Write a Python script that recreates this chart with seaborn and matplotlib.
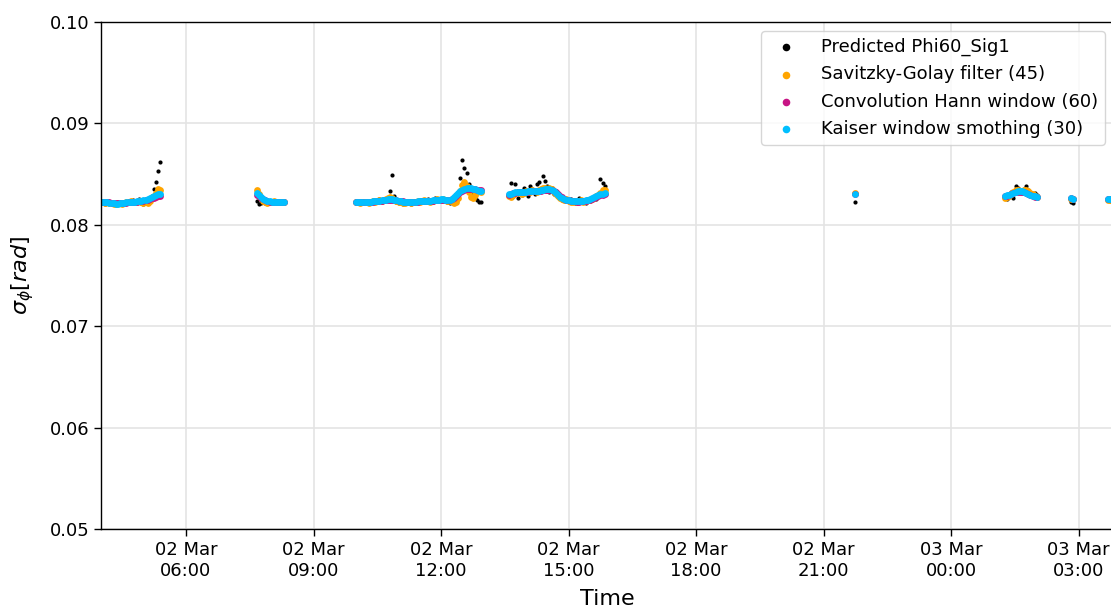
import pandas as pd
import matplotlib
matplotlib.use("Agg")
import matplotlib.pyplot as plt
import matplotlib.dates as mdates
from matplotlib.ticker import FormatStrFormatter
import seaborn as sns

# Sampling interval of all series
STEP = "3min"

# Start time of each contiguous block of samples
seg_starts = ["2023-03-02 04:00", "2023-03-02 07:40", "2023-03-02 10:00",
              "2023-03-02 13:36", "2023-03-02 21:44", "2023-03-03 01:16",
              "2023-03-03 02:49", "2023-03-03 03:42"]

# ---- block 1 (04:00) ----
raw1 = [.0822, .0821, .0820, .0822, .0821, .0822, .0820, .0819, .0821, .0820,
        .0821, .0822, .0821, .0823, .0822, .0824, .0821, .0822, .0825, .0821,
        .0820, .0824, .0821, .0826, .0828, .0835, .0842, .0853, .0862]
savgol1 = [.0822, .0822, .0821, .0822, .0821, .0821, .0820, .0820, .0821, .0821,
           .0820, .0821, .0822, .0822, .0823, .0822, .0822, .0822, .0823, .0822,
           .0821, .0822, .0821, .0823, .0826, .0828, .0831, .0835, .0834]
hann1 = [.0822, .0822, .0822, .0822, .0822, .0821, .0821, .0821, .0821, .0821,
         .0821, .0821, .0821, .0822, .0822, .0822, .0822, .0822, .0823, .0823,
         .0823, .0824, .0824, .0825, .0826, .0826, .0827, .0828, .0828]
kaiser1 = [.0822, .0822, .0822, .0822, .0821, .0821, .0821, .0820, .0820, .0821,
           .0821, .0821, .0822, .0822, .0822, .0822, .0822, .0823, .0823, .0823,
           .0824, .0824, .0825, .0826, .0827, .0828, .0829, .0830, .0830]

# ---- block 2 (07:40) ----
raw2 = [.0823, .0820, .0821, .0822, .0821, .0822, .0823, .0822, .0823, .0822,
        .0821, .0822, .0823, .0822]
savgol2 = [.0834, .0830, .0826, .0823, .0822, .0821, .0822, .0822, .0823, .0822,
           .0822, .0822, .0822, .0822]
hann2 = [.0829, .0828, .0826, .0825, .0824, .0823, .0822, .0822, .0822, .0822,
         .0822, .0822, .0822, .0822]
kaiser2 = [.0831, .0829, .0827, .0825, .0824, .0823, .0823, .0822, .0822, .0822,
           .0822, .0822, .0822, .0822]

# ---- block 3 (10:00) ----
raw3 = [.0822, .0821, .0822, .0823, .0821, .0822, .0821, .0822, .0824, .0822,
        .0823, .0825, .0822, .0824, .0823, .0826, .0833, .0849, .0828, .0822,
        .0821, .0822, .0820, .0821, .0822, .0821, .0820, .0822, .0821, .0823,
        .0822, .0824, .0823, .0822, .0825, .0823, .0822, .0826, .0824, .0823,
        .0825, .0823, .0824, .0822, .0821, .0823, .0821, .0822, .0825, .0846,
        .0864, .0856, .0851, .0840, .0832, .0829, .0826, .0824, .0822, .0822]
savgol3 = [.0822, .0822, .0821, .0822, .0822, .0822, .0821, .0822, .0823, .0822,
           .0823, .0824, .0823, .0824, .0825, .0826, .0827, .0826, .0824, .0823,
           .0822, .0822, .0821, .0821, .0822, .0822, .0821, .0822, .0822, .0823,
           .0822, .0823, .0824, .0823, .0823, .0822, .0823, .0824, .0825, .0824,
           .0824, .0825, .0824, .0823, .0823, .0823, .0821, .0822, .0826, .0833,
           .0839, .0842, .0838, .0832, .0827, .0826, .0829, .0832, .0833, .0832]
hann3 = [.0822, .0822, .0822, .0822, .0822, .0822, .0822, .0822, .0822, .0823,
         .0823, .0823, .0823, .0824, .0824, .0824, .0824, .0824, .0824, .0824,
         .0823, .0823, .0823, .0822, .0822, .0822, .0822, .0822, .0822, .0822,
         .0823, .0823, .0823, .0823, .0823, .0823, .0823, .0824, .0824, .0824,
         .0824, .0824, .0824, .0824, .0824, .0825, .0826, .0828, .0830, .0832,
         .0833, .0834, .0835, .0835, .0835, .0835, .0835, .0834, .0834, .0834]
kaiser3 = [.0822, .0822, .0822, .0822, .0822, .0822, .0822, .0822, .0823, .0823,
           .0823, .0823, .0824, .0824, .0824, .0825, .0825, .0825, .0824, .0824,
           .0823, .0823, .0822, .0822, .0822, .0822, .0822, .0822, .0822, .0823,
           .0823, .0823, .0823, .0823, .0823, .0823, .0824, .0824, .0824, .0824,
           .0825, .0825, .0824, .0824, .0824, .0825, .0827, .0829, .0831, .0833,
           .0834, .0835, .0836, .0836, .0836, .0835, .0835, .0834, .0833, .0833]

# ---- block 4 (13:36) ----
raw4 = [.0830, .0841, .0828, .0840, .0826, .0833, .0829, .0836, .0831, .0828,
        .0838, .0835, .0830, .0840, .0842, .0834, .0848, .0843, .0838, .0832,
        .0836, .0830, .0833, .0827, .0829, .0824, .0826, .0823, .0822, .0825,
        .0824, .0821, .0823, .0826, .0822, .0824, .0821, .0825, .0823, .0824,
        .0827, .0825, .0829, .0845, .0841, .0838]
savgol4 = [.0828, .0827, .0829, .0831, .0832, .0831, .0830, .0831, .0833, .0832,
           .0832, .0834, .0833, .0832, .0834, .0835, .0836, .0836, .0834, .0836,
           .0835, .0832, .0830, .0828, .0826, .0825, .0824, .0825, .0823, .0822,
           .0822, .0823, .0822, .0823, .0824, .0822, .0823, .0824, .0824, .0825,
           .0826, .0828, .0829, .0831, .0834, .0834]
hann4 = [.0829, .0830, .0831, .0831, .0832, .0832, .0832, .0832, .0832, .0832,
         .0833, .0833, .0833, .0833, .0833, .0833, .0834, .0834, .0834, .0834,
         .0834, .0833, .0832, .0830, .0828, .0827, .0825, .0824, .0824, .0823,
         .0823, .0823, .0822, .0822, .0823, .0823, .0823, .0824, .0824, .0825,
         .0826, .0827, .0828, .0829, .0829, .0830]
kaiser4 = [.0830, .0830, .0831, .0832, .0832, .0832, .0832, .0832, .0832, .0833,
           .0833, .0833, .0833, .0833, .0833, .0834, .0834, .0835, .0835, .0835,
           .0834, .0833, .0831, .0829, .0827, .0826, .0825, .0824, .0824, .0823,
           .0823, .0823, .0823, .0823, .0823, .0823, .0824, .0824, .0825, .0826,
           .0827, .0828, .0829, .0830, .0830, .0831]

# ---- block 5 (21:44) ----
raw5 = [.0822]
savgol5 = [.0831]
hann5 = [.0830]
kaiser5 = [.0830]

# ---- block 6 (01:16) ----
raw6 = [.0827, .0825, .0829, .0832, .0826, .0838, .0836, .0833, .0831, .0835,
        .0838, .0834, .0830, .0828, .0831, .0829]
savgol6 = [.0826, .0827, .0828, .0830, .0832, .0834, .0834, .0833, .0833, .0834,
           .0834, .0833, .0831, .0830, .0828, .0827]
hann6 = [.0828, .0828, .0829, .0830, .0831, .0832, .0832, .0832, .0832, .0832,
         .0831, .0830, .0829, .0828, .0827, .0827]
kaiser6 = [.0828, .0829, .0829, .0830, .0831, .0832, .0833, .0833, .0833, .0832,
           .0831, .0830, .0829, .0828, .0828, .0827]

# ---- block 7 (02:49) ----
raw7 = [.0822, .0821]
savgol7 = [.0825, .0825]
hann7 = [.0826, .0825]
kaiser7 = [.0826, .0825]

# ---- block 8 (03:42) ----
raw8 = [.0824, .0823]
savgol8 = [.0824, .0824]
hann8 = [.0825, .0825]
kaiser8 = [.0825, .0825]

raw_blocks = [raw1, raw2, raw3, raw4, raw5, raw6, raw7, raw8]
savgol_blocks = [savgol1, savgol2, savgol3, savgol4, savgol5, savgol6, savgol7, savgol8]
hann_blocks = [hann1, hann2, hann3, hann4, hann5, hann6, hann7, hann8]
kaiser_blocks = [kaiser1, kaiser2, kaiser3, kaiser4, kaiser5, kaiser6, kaiser7, kaiser8]

series_labels = ["Predicted Phi60_Sig1", "Savitzky-Golay filter (45)",
                 "Convolution Hann window (60)", "Kaiser window smothing (30)"]

frames = []
for start, r, sg, hn, ks in zip(seg_starts, raw_blocks, savgol_blocks,
                                hann_blocks, kaiser_blocks):
    t = pd.date_range(start, periods=len(r), freq=STEP)
    frames.append(pd.DataFrame({"Time": t, "raw": r, "savgol": sg,
                                "hann": hn, "kaiser": ks}))
df = pd.concat(frames, ignore_index=True)

sns.set_style("ticks")
plt.rcParams["font.family"] = ["DejaVu Sans"]
plt.rcParams["axes.edgecolor"] = "black"
plt.rcParams["axes.linewidth"] = 1.0
plt.rcParams["xtick.color"] = "black"
plt.rcParams["ytick.color"] = "black"
plt.rcParams["text.color"] = "black"
plt.rcParams["axes.labelcolor"] = "black"

fig = plt.figure(figsize=(11.11, 6.08), dpi=100)
ax = fig.add_axes([0.0909, 0.130, 0.9118, 0.8339])
ax.set_axisbelow(True)

sns.scatterplot(data=df, x="Time", y="raw", color="black", s=9, linewidth=0,
                ax=ax, label=series_labels[0])
sns.scatterplot(data=df, x="Time", y="savgol", color="orange", s=24, linewidth=0,
                ax=ax, label=series_labels[1])
sns.scatterplot(data=df, x="Time", y="hann", color="mediumvioletred", s=24,
                linewidth=0, ax=ax, label=series_labels[2])
sns.scatterplot(data=df, x="Time", y="kaiser", color="deepskyblue", s=24,
                linewidth=0, ax=ax, label=series_labels[3])

ax.set_xlim(pd.Timestamp("2023-03-02 04:00"), pd.Timestamp("2023-03-03 03:50"))
ax.set_ylim(0.05, 0.10)
ax.set_yticks([0.05, 0.06, 0.07, 0.08, 0.09, 0.10])
ax.yaxis.set_major_formatter(FormatStrFormatter("%.2f"))
ax.xaxis.set_major_locator(mdates.HourLocator(byhour=range(0, 24, 3)))
ax.xaxis.set_major_formatter(mdates.DateFormatter("%d %b\n%H:%M"))
ax.tick_params(axis="both", labelsize=13, length=5, width=1)

ax.grid(True, color="#e4e4e4", linewidth=1.2)
for side in ["top", "right", "left", "bottom"]:
    ax.spines[side].set_visible(True)

ax.set_xlabel("Time", fontsize=16, labelpad=7)
ax.set_ylabel(r"$\sigma_{\phi}[rad]$", fontsize=16, labelpad=10)

leg = ax.legend(loc="upper right", fontsize=13, frameon=True, edgecolor="0.8",
                fancybox=True, framealpha=0.8, handletextpad=0.9)
for h in leg.legend_handles:
    h.set_sizes([30])

fig.savefig("out.png", dpi=100)
